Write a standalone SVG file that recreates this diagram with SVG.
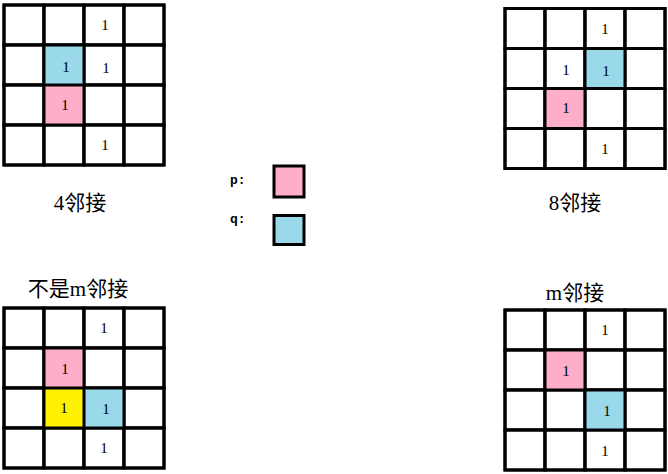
<svg xmlns="http://www.w3.org/2000/svg" width="668" height="474" viewBox="0 0 668 474">
<style>
.c{fill:#fff;stroke:#000;stroke-width:3}
.p{fill:#FFAEC9}
.q{fill:#99D9EA}
.y{fill:#FFF200}
.n{font-family:"Liberation Serif",serif;font-size:15px;text-anchor:middle;fill:#000}
.t{font-family:"Liberation Serif","Noto Sans CJK SC",sans-serif;font-size:21px;text-anchor:middle;fill:#000}
.l{font-family:"Liberation Mono",monospace;font-size:13px;font-weight:bold;fill:#000}
</style>
<defs>
<g id="grid">
<rect class="c" x="0" y="0" width="40" height="40"/><rect class="c" x="40" y="0" width="40" height="40"/><rect class="c" x="80" y="0" width="40" height="40"/><rect class="c" x="120" y="0" width="40" height="40"/>
<rect class="c" x="0" y="40" width="40" height="40"/><rect class="c" x="40" y="40" width="40" height="40"/><rect class="c" x="80" y="40" width="40" height="40"/><rect class="c" x="120" y="40" width="40" height="40"/>
<rect class="c" x="0" y="80" width="40" height="40"/><rect class="c" x="40" y="80" width="40" height="40"/><rect class="c" x="80" y="80" width="40" height="40"/><rect class="c" x="120" y="80" width="40" height="40"/>
<rect class="c" x="0" y="120" width="40" height="40"/><rect class="c" x="40" y="120" width="40" height="40"/><rect class="c" x="80" y="120" width="40" height="40"/><rect class="c" x="120" y="120" width="40" height="40"/>
</g>
<g id="lines" fill="none" stroke="#000" stroke-width="3">
<path d="M0,0H160V160H0Z M40,0V160 M80,0V160 M120,0V160 M0,40H160 M0,80H160 M0,120H160"/>
</g>
</defs>

<g id="four-adjacency" transform="translate(4,5)">
<use href="#grid"/>
<rect class="q" x="40" y="40" width="40" height="40"/>
<rect class="p" x="40" y="80" width="40" height="40"/>
<use href="#lines"/>
<text class="n" x="101" y="25">1</text>
<text class="n" x="62" y="67">1</text>
<text class="n" x="102" y="68">1</text>
<text class="n" x="61" y="105">1</text>
<text class="n" x="101" y="145">1</text>
</g>
<text class="t" x="80" y="210">4邻接</text>

<g id="eight-adjacency" transform="translate(505,8.5)">
<use href="#grid"/>
<rect class="q" x="80" y="40" width="40" height="40"/>
<rect class="p" x="40" y="80" width="40" height="40"/>
<use href="#lines"/>
<text class="n" x="100" y="25">1</text>
<text class="n" x="61" y="66">1</text>
<text class="n" x="101" y="67">1</text>
<text class="n" x="61" y="104">1</text>
<text class="n" x="100" y="145">1</text>
</g>
<text class="t" x="575" y="210">8邻接</text>

<g id="legend">
<text class="l" x="230" y="184">p:</text>
<rect x="274" y="166" width="30" height="31" fill="#FFAEC9" stroke="#000" stroke-width="3"/>
<text class="l" x="230" y="223">q:</text>
<rect x="274" y="215.5" width="30" height="29" fill="#99D9EA" stroke="#000" stroke-width="3"/>
</g>

<g id="not-m-adjacency" transform="translate(4,308)">
<use href="#grid"/>
<rect class="p" x="40" y="40" width="40" height="40"/>
<rect class="y" x="40" y="80" width="40" height="40"/>
<rect class="q" x="80" y="80" width="40" height="40"/>
<use href="#lines"/>
<text class="n" x="100" y="25">1</text>
<text class="n" x="61" y="66">1</text>
<text class="n" x="60" y="105">1</text>
<text class="n" x="102" y="106">1</text>
<text class="n" x="100" y="145">1</text>
</g>
<text class="t" x="78" y="296">不是m邻接</text>

<g id="m-adjacency" transform="translate(505,310)">
<use href="#grid"/>
<rect class="p" x="40" y="40" width="40" height="40"/>
<rect class="q" x="80" y="80" width="40" height="40"/>
<use href="#lines"/>
<text class="n" x="100" y="25">1</text>
<text class="n" x="61" y="66">1</text>
<text class="n" x="102" y="106">1</text>
<text class="n" x="100" y="146">1</text>
</g>
<text class="t" x="575" y="300">m邻接</text>
</svg>
